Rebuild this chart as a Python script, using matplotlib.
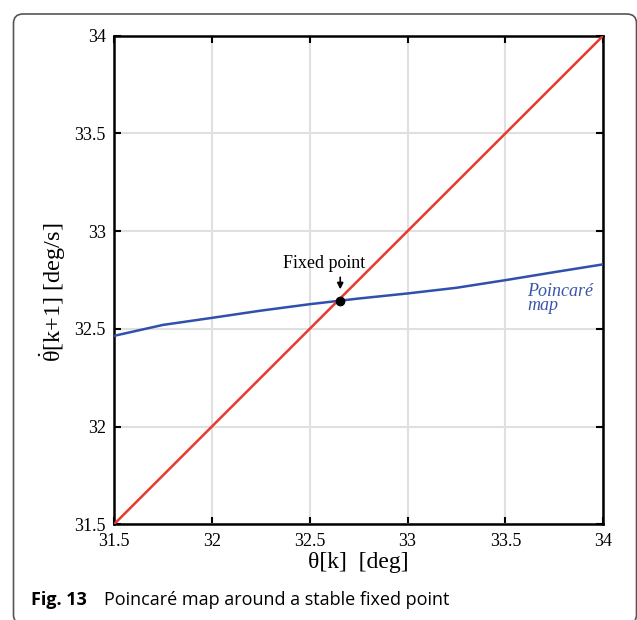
import matplotlib
matplotlib.use('Agg')
import matplotlib.pyplot as plt
from matplotlib.patches import FancyBboxPatch

plt.rcParams['font.family'] = ['Liberation Serif', 'DejaVu Serif']
plt.rcParams['mathtext.fontset'] = 'custom'
plt.rcParams['mathtext.rm'] = 'Liberation Serif'
plt.rcParams['mathtext.it'] = 'Liberation Serif:italic'

# poincare map samples
theta_k = [31.5, 31.75, 32.0, 32.25, 32.5, 32.75, 33.0, 33.25, 33.5, 33.75, 34.0]
theta_next = [32.464, 32.52, 32.556, 32.593, 32.626, 32.655, 32.681, 32.71, 32.749, 32.79, 32.83]
# identity line
diag_x = [31.5, 34.0]
diag_y = [31.5, 34.0]
# fixed point
fp_x = 32.656
fp_y = 32.644
ticks = [31.5, 32, 32.5, 33, 33.5, 34]
tick_labels = ['31.5', '32', '32.5', '33', '33.5', '34']

fig = plt.figure(figsize=(6.37, 6.20), dpi=100)
ax = fig.add_axes([0.179, 0.1544, 0.768, 0.7881])

ax.plot(theta_k, theta_next, color='#3050ac', lw=1.8, zorder=3)
ax.plot(diag_x, diag_y, color='#e8392c', lw=1.8, zorder=3)
ax.plot(fp_x, fp_y, 'o', color='black', ms=6, zorder=5)

ax.annotate('', xy=(fp_x, 32.688), xytext=(fp_x, 32.778),
            arrowprops=dict(arrowstyle='-|>', color='black', lw=1.2, mutation_scale=9))
ax.text(32.573, 32.836, 'Fixed point', ha='center', va='center', fontsize=13)
ax.text(33.611, 32.736, 'Poincaré\nmap', color='#3a55a8', style='italic',
        ha='left', va='top', fontsize=13, linespacing=0.8)

ax.set_xlim(31.5, 34)
ax.set_ylim(31.5, 34)
ax.set_xticks(ticks, tick_labels)
ax.set_yticks(ticks, tick_labels)
ax.grid(True, color='#e0e0e0', lw=1.5)
ax.set_axisbelow(True)
ax.tick_params(direction='in', length=5, width=1.5, labelsize=13,
               top=True, right=True, pad=6)
for s in ax.spines.values():
    s.set_linewidth(1.8)

ax.set_xlabel('θ[k]  [deg]', fontsize=17, labelpad=2)
ax.set_ylabel(r'$\mathrm{\dot{\theta}}$[k+1] [deg/s]', fontsize=17.5)
ax.yaxis.set_label_coords(-0.094, 0.475)

# caption box
W, H = 637, 620
box = FancyBboxPatch((13.5 / W, -4 / H), 623 / W, 610 / H,
                     boxstyle='round,pad=0,rounding_size=0.015',
                     transform=fig.transFigure, fill=False,
                     edgecolor='#555555', lw=1.2, clip_on=False)
fig.patches.append(box)
fig.text(31 / W, 0.0242, 'Fig. 13', fontsize=13, fontweight='bold',
         family='Open Sans', va='baseline')
fig.text(104 / W, 0.0242, 'Poincaré map around a stable fixed point', fontsize=13,
         family='Open Sans', va='baseline')

fig.savefig('out.png', dpi=100)
